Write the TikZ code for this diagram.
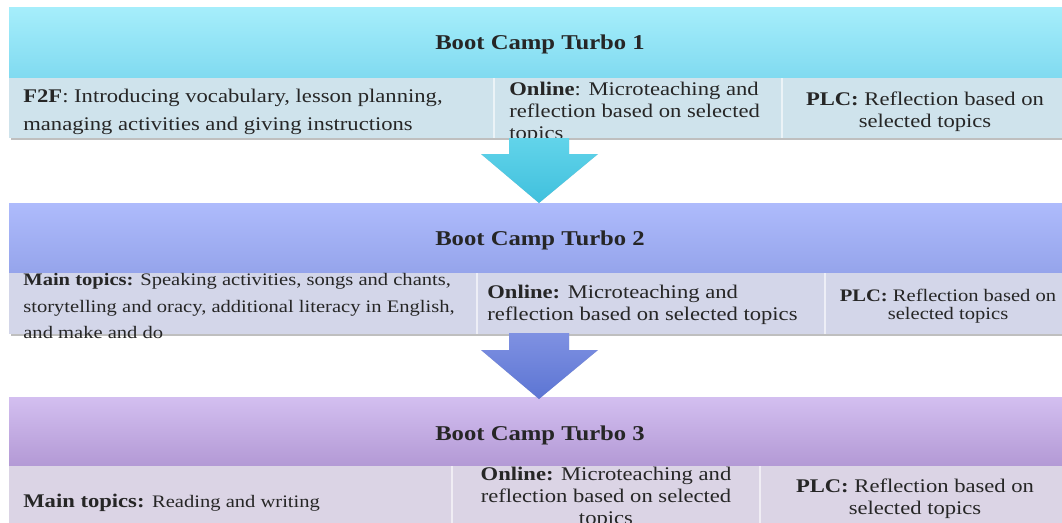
\documentclass[tikz,border=0pt]{standalone}
\usepackage{fontspec}
\setmainfont{Liberation Serif}[FakeStretch=1.17]

\definecolor{bandAtop}{HTML}{A6EEFB}
\definecolor{bandAbot}{HTML}{80DAF0}
\definecolor{rowA}{HTML}{CFE3EC}
\definecolor{arrAtop}{HTML}{62D4EA}
\definecolor{arrAbot}{HTML}{40C0DD}
\definecolor{bandBtop}{HTML}{AEBBFC}
\definecolor{bandBbot}{HTML}{95A4EB}
\definecolor{rowB}{HTML}{D3D6E9}
\definecolor{arrBtop}{HTML}{7F91E2}
\definecolor{arrBbot}{HTML}{5C75D3}
\definecolor{bandCtop}{HTML}{D3BFF0}
\definecolor{bandCbot}{HTML}{B399D5}
\definecolor{rowC}{HTML}{DBD4E5}
\definecolor{txt}{HTML}{262626}

\tikzset{
  title/.style={font=\bfseries\fontsize{12}{14}\selectfont, text=txt},
  cell/.style={font=\fontsize{11}{12.4}\selectfont, text=txt, inner sep=0pt},
  divider/.style={white, line width=0.8pt, opacity=0.6},
  boxshadow/.style={black, opacity=0.25},
}

\begin{document}
\begin{tikzpicture}[x=0.02cm,y=0.02cm]
  \useasboundingbox (0,0) rectangle (1062,-522);
  \clip (0,0) rectangle (1062,-522);

  % Turbo 1
  \fill[boxshadow] (11,-10) rectangle (1064,-140);
  \shade[top color=bandAtop, bottom color=bandAbot] (9,-7) rectangle (1062,-78);
  \fill[rowA] (9,-78) rectangle (1062,-138);
  \draw[divider] (494,-78) -- (494,-138);
  \draw[divider] (782,-78) -- (782,-138);
  \node[title] (title1) at (540,-44) {Boot Camp Turbo 1};
  \node[cell, anchor=west, align=left, font=\fontsize{11}{16}\selectfont] (f2f1) at (23,-112)
    {\textbf{F2F}: Introducing vocabulary, lesson planning,\\managing activities and giving instructions};
  \node[cell, anchor=west, align=left] (online1) at (509,-113)
    {\textbf{Online}: Microteaching and\\reflection based on selected\\topics};
  \node[cell, align=center] (plc1) at (925,-112)
    {\textbf{PLC:} Reflection based on\\selected topics};

  % Turbo 2
  \fill[boxshadow] (11,-206) rectangle (1064,-336);
  \shade[top color=bandBtop, bottom color=bandBbot] (9,-203) rectangle (1062,-273);
  \fill[rowB] (9,-273) rectangle (1062,-334);
  \draw[divider] (477,-273) -- (477,-334);
  \draw[divider] (825,-273) -- (825,-334);
  \node[title] (title2) at (540,-240) {Boot Camp Turbo 2};
  \node[cell, anchor=west, align=left, font=\fontsize{10}{15}\selectfont] (main2) at (23,-306)
    {\textbf{Main topics:} Speaking activities, songs and chants,\\storytelling and oracy, additional literacy in English,\\and make and do};
  \node[cell, anchor=west, align=left] (online2) at (487,-305)
    {\textbf{Online:} Microteaching and\\reflection based on selected topics};
  \node[cell, align=center, font=\fontsize{10}{10.5}\selectfont] (plc2) at (948,-306)
    {\textbf{PLC:} Reflection based on\\selected topics};

  % Turbo 3
  \fill[boxshadow] (11,-400) rectangle (1064,-524);
  \shade[top color=bandCtop, bottom color=bandCbot] (9,-397) rectangle (1062,-466);
  \fill[rowC] (9,-466) rectangle (1062,-524);
  \draw[divider] (452,-466) -- (452,-524);
  \draw[divider] (760,-466) -- (760,-524);
  \node[title] (title3) at (540,-435) {Boot Camp Turbo 3};
  \node[cell, anchor=west] (main3) at (23,-503)
    {\textbf{Main topics:} {\fontsize{10}{12}\selectfont Reading and writing}};
  \node[cell, align=center] (online3) at (606,-498)
    {\textbf{Online:} Microteaching and\\reflection based on selected\\topics};
  \node[cell, align=center] (plc3) at (915,-499)
    {\textbf{PLC:} Reflection based on\\selected topics};

  % Arrows
  \coordinate (tip1) at (539,-203);
  \coordinate (tip2) at (539,-399);
  \fill[boxshadow, opacity=0.2, xshift=1pt, yshift=-1.5pt]
    (tip1) -- ++(-58,49) -- ++(28,0) -- ++(0,16) -- ++(60,0) -- ++(0,-16) -- ++(29,0) -- cycle;
  \shade[top color=arrAtop, bottom color=arrAbot]
    (tip1) -- ++(-58,49) -- ++(28,0) -- ++(0,16) -- ++(60,0) -- ++(0,-16) -- ++(29,0) -- cycle;
  \fill[boxshadow, opacity=0.2, xshift=1pt, yshift=-1.5pt]
    (tip2) -- ++(-58,49) -- ++(28,0) -- ++(0,17) -- ++(60,0) -- ++(0,-17) -- ++(29,0) -- cycle;
  \shade[top color=arrBtop, bottom color=arrBbot]
    (tip2) -- ++(-58,49) -- ++(28,0) -- ++(0,17) -- ++(60,0) -- ++(0,-17) -- ++(29,0) -- cycle;
\end{tikzpicture}
\end{document}
